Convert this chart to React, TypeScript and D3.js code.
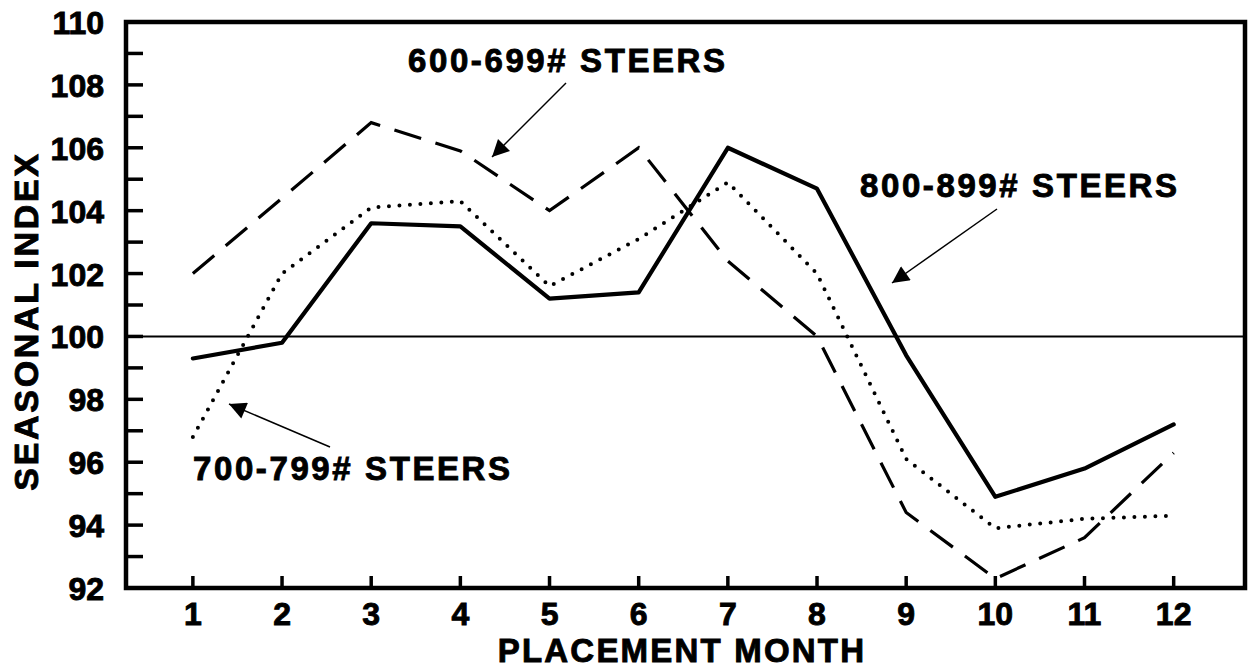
import { useRef, useEffect } from 'react'
import * as d3 from 'd3'

const months = [1, 2, 3, 4, 5, 6, 7, 8, 9, 10, 11, 12]
const steers600 = [102.0, 104.4, 106.8, 105.9, 104.0, 106.0, 102.4, 100.0, 94.4, 92.3, 93.6, 96.3]
const steers700 = [96.8, 102.0, 104.1, 104.3, 101.6, 103.1, 104.9, 102.0, 96.1, 93.9, 94.2, 94.3]
const steers800 = [99.3, 99.8, 103.6, 103.5, 101.2, 101.4, 106.0, 104.7, 99.4, 94.9, 95.8, 97.2]
const yTickLabels = [92, 94, 96, 98, 100, 102, 104, 106, 108, 110]

const App = () => {
  const ref = useRef<SVGSVGElement>(null)

  useEffect(() => {
    if (!ref.current) return
    const svg = d3.select(ref.current)
    svg.selectAll('*').remove()
    const font = "'Liberation Sans', Arial, Helvetica, sans-serif"
    const left = 126
    const right = 1245
    const top = 22
    const bottom = 588

    const x = d3.scaleLinear().domain([0.25, 12.8]).range([left, right])
    const y = d3.scaleLinear().domain([92, 110]).range([bottom, top])

    const boldText = (sel: any, size = 33, spacing = 2.5) =>
      sel.attr('font-family', font).attr('font-weight', 'bold').attr('font-size', size)
        .attr('letter-spacing', spacing)
        .attr('stroke', '#000').attr('stroke-width', 0.9)

    // y ticks, one per unit, pointing inward
    const g = svg.append('g')
    g.selectAll('.ytick')
      .data(d3.range(93, 110))
      .enter()
      .append('line')
      .attr('x1', left).attr('x2', left + 17)
      .attr('y1', d => y(d)).attr('y2', d => y(d))
      .attr('stroke', '#000').attr('stroke-width', 3.5)
    g.selectAll('.ylab')
      .data(yTickLabels)
      .enter()
      .append('text')
      .attr('x', left - 22).attr('y', d => y(d) + 12)
      .attr('text-anchor', 'end')
      .call(boldText, 32, 0)
      .text(d => d)

    g.selectAll('.xtick')
      .data(months)
      .enter()
      .append('line')
      .attr('x1', d => x(d)).attr('x2', d => x(d))
      .attr('y1', bottom).attr('y2', bottom - 12)
      .attr('stroke', '#000').attr('stroke-width', 3.5)
    g.selectAll('.xlab')
      .data(months)
      .enter()
      .append('text')
      .attr('x', d => x(d)).attr('y', bottom + 37)
      .attr('text-anchor', 'middle')
      .call(boldText, 32, 0)
      .text(d => d)

    // axis titles
    svg.append('text')
      .attr('x', 682).attr('y', 662)
      .attr('text-anchor', 'middle')
      .call(boldText, 33, 2.2)
      .text('PLACEMENT MONTH')
    svg.append('text')
      .attr('transform', `translate(38,321) rotate(-90)`)
      .attr('text-anchor', 'middle')
      .call(boldText, 34, 2.7)
      .text('SEASONAL INDEX')

    // 100 reference line
    svg.append('line')
      .attr('x1', left).attr('x2', right)
      .attr('y1', y(100)).attr('y2', y(100))
      .attr('stroke', '#000').attr('stroke-width', 2)

    const line = d3.line<number>().x((_, i) => x(months[i])).y(d => y(d))

    svg.append('path').attr('d', line(steers600))
      .attr('fill', 'none').attr('stroke', '#000').attr('stroke-width', 3.2)
      .attr('stroke-dasharray', '28 15')
    svg.append('path').attr('d', line(steers700))
      .attr('fill', 'none').attr('stroke', '#000').attr('stroke-width', 4)
      .attr('stroke-linecap', 'round').attr('stroke-dasharray', '0 10.5')
    svg.append('path').attr('d', line(steers800))
      .attr('fill', 'none').attr('stroke', '#000').attr('stroke-width', 4.2)
      .attr('stroke-linejoin', 'round').attr('stroke-linecap', 'round')

    // frame
    svg.append('rect')
      .attr('x', left).attr('y', top)
      .attr('width', right - left).attr('height', bottom - top)
      .attr('fill', 'none').attr('stroke', '#000').attr('stroke-width', 4.5)

    // labels with arrows
    const defs = svg.append('defs')
    defs.append('marker')
      .attr('id', 'arr').attr('viewBox', '0 0 10 10')
      .attr('refX', 10).attr('refY', 5)
      .attr('markerWidth', 28).attr('markerHeight', 17)
      .attr('markerUnits', 'userSpaceOnUse')
      .attr('orient', 'auto')
      .append('path').attr('d', 'M0,0 L10,5 L0,10 z').attr('fill', '#000')

    const labels = [
      { text: '600-699# STEERS', tx: 408, ty: 72, a: [566, 83, 492, 157] },
      { text: '800-899# STEERS', tx: 860, ty: 197, a: [997, 209, 892, 283] },
      { text: '700-799# STEERS', tx: 193, ty: 480, a: [330, 447, 229, 404] },
    ]
    labels.forEach(l => {
      svg.append('text')
        .attr('x', l.tx).attr('y', l.ty)
        .call(boldText, 33, 2.6)
        .text(l.text)
      svg.append('line')
        .attr('x1', l.a[0]).attr('y1', l.a[1]).attr('x2', l.a[2]).attr('y2', l.a[3])
        .attr('stroke', '#000').attr('stroke-width', 1.5)
        .attr('marker-end', 'url(#arr)')
    })
  }, [])

  return (
    <svg ref={ref} width={1250} height={670}
      style={{ position: 'absolute', left: 0, top: 0, background: '#fff' }} />
  )
}

export default App
